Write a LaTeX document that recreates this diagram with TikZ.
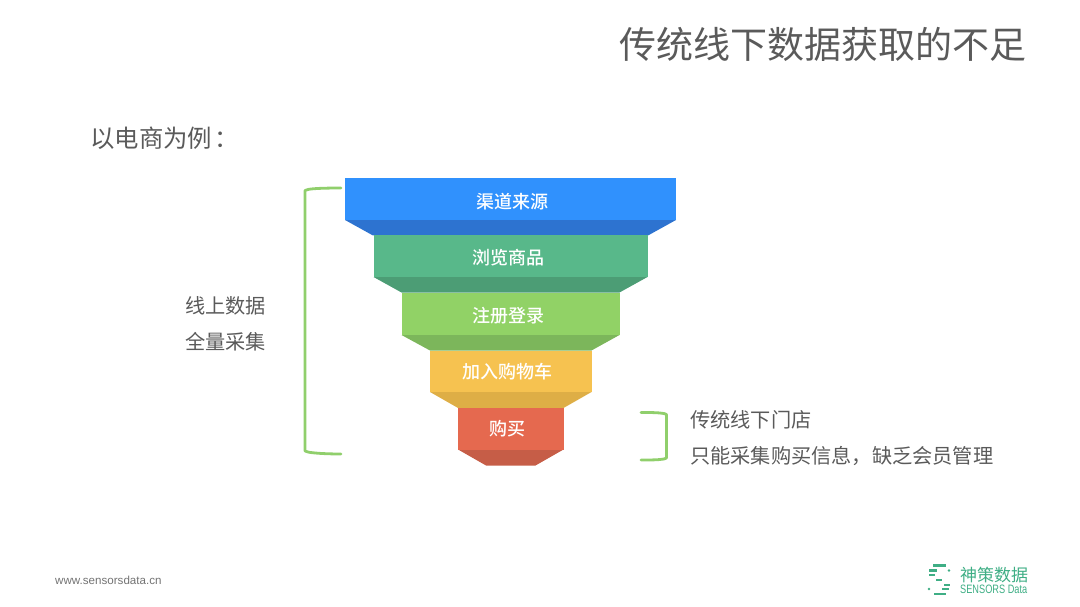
\documentclass[tikz,border=0pt]{standalone}
\usepackage{graphicx}
\usepackage{fontspec}
\setmainfont{Noto Sans CJK SC}
\newfontfamily\medcjk{Noto Sans CJK SC Medium}
\newfontfamily\latinsans{Liberation Sans}
\definecolor{tx}{HTML}{5A5A5A}
\definecolor{brk}{HTML}{90CF6C}
\definecolor{logo}{HTML}{3FAE85}
\definecolor{c1}{RGB}{48,145,253}\definecolor{c1d}{RGB}{45,115,208}
\definecolor{c2}{RGB}{88,184,138}\definecolor{c2d}{RGB}{76,157,117}
\definecolor{c3}{RGB}{145,210,102}\definecolor{c3d}{RGB}{124,182,91}
\definecolor{c4}{RGB}{246,194,80}\definecolor{c4d}{RGB}{222,174,70}
\definecolor{c5}{RGB}{229,105,79}\definecolor{c5d}{RGB}{198,93,71}
\tikzset{
  x=1pt,y=-1pt,
  lab/.style={inner sep=0pt,font=\medcjk\fontsize{18}{20}\selectfont,text=white,anchor=center},
  note/.style={inner sep=0pt,font=\fontsize{20.2}{24}\selectfont,text=tx,anchor=west},
  brace/.style={draw=brk,line width=2.8pt,line cap=round,line join=round},
  logobar/.style={draw=logo,line width=2.6pt,line cap=butt}
}
\begin{document}
\begin{tikzpicture}
\useasboundingbox (0,0) rectangle (1080,607);
\node[inner sep=0pt,anchor=east,font=\fontsize{37}{44}\selectfont,text=tx] (title) at (1027,44) {传统线下数据获取的不足};
\node[inner sep=0pt,anchor=west,font=\fontsize{24.4}{30}\selectfont,text=tx] (sub) at (90,138) {以电商为例\hspace{2pt}：};
% funnel
\fill[c1d] (345,220)--(676,220)--(648,235.5)--(373,235.5)--cycle;
\fill[c1] (345,178) rectangle (676,220);
\fill[c2d] (373.5,277)--(647.5,277)--(619.5,292.5)--(401.5,292.5)--cycle;
\fill[c2] (373.5,235.5) rectangle (647.5,277);
\fill[c3d] (401.5,335)--(619.5,335)--(591.5,350.5)--(430,350.5)--cycle;
\fill[c3] (401.5,292.5) rectangle (619.5,335);
\fill[c4d] (430,392)--(591.5,392)--(563.5,408)--(458,408)--cycle;
\fill[c4] (430,350.5) rectangle (591.5,392);
\fill[c5d] (458,449.5)--(563.5,449.5)--(535.5,465.5)--(486,465.5)--cycle;
\fill[c5] (458,408) rectangle (563.5,449.5);
\node[lab] (a) at (512,201.5) {渠道来源};
\node[lab] (b) at (508,257.5) {浏览商品};
\node[lab] (c) at (508,315.5) {注册登录};
\node[lab] (d) at (507.5,371.5) {加入购物车};
\node[lab] (e) at (507.5,428.5) {购买};
% brackets
\coordinate (l1) at (341,188);\coordinate (l2) at (305,190.5);\coordinate (l3) at (305,451);\coordinate (l4) at (341,454);
\draw[brace] (l1) .. controls (325,188) and (312,188.5) .. (308,189.5) -- (l2) -- (l3) -- (308,452) .. controls (312,453) and (325,454) .. (l4);
\coordinate (r1) at (641,412.5);\coordinate (r2) at (666.5,414.5);\coordinate (r3) at (666.5,458);\coordinate (r4) at (641,460);
\draw[brace] (r1) .. controls (650,412.5) and (658,412.5) .. (664,413.5) -- (r2) -- (r3) -- (664,459) .. controls (658,460) and (650,460) .. (r4);
\node[note,anchor=east] (n1) at (266,306) {线上数据};
\node[note,anchor=east] (n2) at (266,342) {全量采集};
\node[note] (n3) at (690,420) {传统线下门店};
\node[note] (n4) at (690,456) {只能采集购买信息，缺乏会员管理};
% footer
\node[inner sep=0pt,anchor=west,font=\latinsans\fontsize{11.6}{13}\selectfont,text=black!55] (url) at (55,580) {www.sensorsdata.cn};
\node[inner sep=0pt,anchor=west,font=\fontsize{17}{20}\selectfont,text=logo] (lg1) at (960,575) {神策数据};
\node[inner sep=0pt,anchor=west,font=\latinsans,text=logo] (lg2) at (960,589.5) {\resizebox{67pt}{8.5pt}{SENSORS Data}};
% logo mark
\draw[logobar] (933,565.5) -- (946,565.5);
\draw[logobar] (929,570.5) -- (937,570.5);
\draw[logobar] (929,575) -- (935,575);
\draw[logobar] (936,580) -- (942,580);
\draw[logobar] (944,585) -- (950,585);
\draw[logobar] (942,589) -- (949,589);
\draw[logobar] (934,594) -- (946,594);
\fill[logo] (949,570.5) circle (1.4);
\fill[logo] (929,589) circle (1.4);
\end{tikzpicture}
\end{document}
